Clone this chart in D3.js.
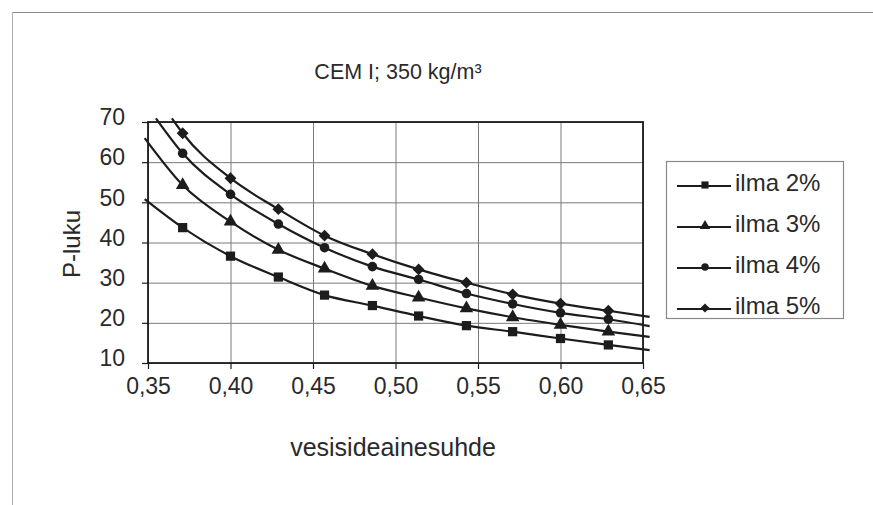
<!DOCTYPE html>
<html><head><meta charset="utf-8">
<script src="https://cdn.jsdelivr.net/npm/d3@7"></script>
<style>
html,body{margin:0;padding:0;background:#fff;}
svg{display:block;}
text{font-family:"Liberation Sans",Arial,sans-serif;fill:#2a2a2a;}
</style></head>
<body><svg id="c" width="873" height="505"></svg>
<script>
// ---- data ----
const chartTitle = "CEM I; 350 kg/m³";
const xTitle = "vesisideainesuhde";
const yTitle = "P-luku";
const xValues = [0.371, 0.400, 0.429, 0.457, 0.486, 0.514, 0.543, 0.571, 0.600, 0.629];
const seriesNames = ["ilma 2%", "ilma 3%", "ilma 4%", "ilma 5%"];
const ilma2 = [43.7, 36.6, 31.4, 26.9, 24.3, 21.7, 19.3, 17.8, 16.1, 14.5];
const ilma3 = [54.3, 45.2, 38.2, 33.5, 29.2, 26.3, 23.6, 21.4, 19.5, 17.8];
const ilma4 = [62.2, 52.0, 44.6, 38.7, 34.0, 30.8, 27.3, 24.7, 22.5, 20.9];
const ilma5 = [67.2, 56.0, 48.3, 41.7, 37.1, 33.3, 30.0, 27.1, 24.8, 23.0];
// curve ends (line runs beyond the markers)
const curveStartX = [0.348, 0.348, 0.3548, 0.3645];
const curveStartY = [50.8, 66.0, 70.9, 70.9];
const curveEndX = [0.654, 0.654, 0.654, 0.654];
const curveEndY = [13.2, 16.5, 19.2, 21.5];
const xTicks = [0.35, 0.40, 0.45, 0.50, 0.55, 0.60, 0.65];
const xTickLabels = ["0,35", "0,40", "0,45", "0,50", "0,55", "0,60", "0,65"];
const yTicks = [10, 20, 30, 40, 50, 60, 70];
const markerKinds = ["square", "triangle", "circle", "diamond"];

const svg = d3.select("#c");
const ink = "#1c1c1c";
const L = 148, R = 643, T = 122, B = 363;
const x = d3.scaleLinear().domain([0.35, 0.65]).range([L, R]);
const y = d3.scaleLinear().domain([10, 70]).range([B, T]);

// outer chart frame
svg.append("line").attr("x1", 12).attr("x2", 873).attr("y1", 12.5).attr("y2", 12.5).attr("stroke", "#8a8a8a").attr("stroke-width", 1.2);
svg.append("line").attr("x1", 12.5).attr("x2", 12.5).attr("y1", 12).attr("y2", 505).attr("stroke", "#b0b0b0").attr("stroke-width", 1);

// grid
const g = svg.append("g");
g.append("g").attr("transform", `translate(0,${B})`)
  .call(d3.axisBottom(x).tickValues(xTicks).tickSize(-(B - T)).tickFormat(""))
  .call(s => s.select(".domain").remove())
  .call(s => s.selectAll("line").attr("stroke", "#7a7a7a").attr("stroke-width", 1));
g.append("g").attr("transform", `translate(${L},0)`)
  .call(d3.axisLeft(y).tickValues(yTicks).tickSize(-(R - L)).tickFormat(""))
  .call(s => s.select(".domain").remove())
  .call(s => s.selectAll("line").attr("stroke", "#7a7a7a").attr("stroke-width", 1));

// plot border
g.append("rect").attr("x", L).attr("y", T).attr("width", R - L).attr("height", B - T)
  .attr("fill", "none").attr("stroke", ink).attr("stroke-width", 1.8);

// axes with outside ticks & labels
const xa = svg.append("g").attr("transform", `translate(0,${B})`)
  .call(d3.axisBottom(x).tickValues(xTicks).tickSize(6).tickPadding(9).tickFormat((d, i) => xTickLabels[i]));
xa.select(".domain").remove();
xa.selectAll("line").attr("stroke", ink).attr("stroke-width", 1.2);
xa.selectAll("text").attr("font-size", 23).attr("font-family", "Liberation Sans, Arial, sans-serif").attr("fill", "#2a2a2a");

const ya = svg.append("g").attr("transform", `translate(${L},0)`)
  .call(d3.axisLeft(y).tickValues(yTicks).tickSize(6).tickPadding(17));
ya.select(".domain").remove();
ya.selectAll("line").attr("stroke", ink).attr("stroke-width", 1.2);
ya.selectAll("text").attr("font-size", 23).attr("dy", "0.12em").attr("font-family", "Liberation Sans, Arial, sans-serif").attr("fill", "#2a2a2a");

// titles
svg.append("text").attr("x", 398).attr("y", 79).attr("text-anchor", "middle").attr("font-size", 21.5).text(chartTitle);
svg.append("text").attr("x", 393).attr("y", 456).attr("text-anchor", "middle").attr("font-size", 25).text(xTitle);
svg.append("text").attr("transform", "translate(80,244) rotate(-90)").attr("text-anchor", "middle").attr("font-size", 24).text(yTitle);

// series
const allY = [ilma2, ilma3, ilma4, ilma5];
const diamond = {draw(ctx, size) { const r = Math.sqrt(size / 2); ctx.moveTo(0, -r); ctx.lineTo(r, 0); ctx.lineTo(0, r); ctx.lineTo(-r, 0); ctx.closePath(); }};
const symType = {square: d3.symbolSquare, triangle: d3.symbolTriangle, circle: d3.symbolCircle, diamond: diamond};
const symSize = {square: 85, triangle: 80, circle: 72, diamond: 70};
const line = d3.line().x(d => x(d[0])).y(d => y(d[1])).curve(d3.curveMonotoneX);

allY.forEach((vals, i) => {
  const pts = [[curveStartX[i], curveStartY[i]]].concat(xValues.map((xv, j) => [xv, vals[j]])).concat([[curveEndX[i], curveEndY[i]]]);
  svg.append("path").attr("d", line(pts)).attr("fill", "none").attr("stroke", ink).attr("stroke-width", 2.2);
  const k = markerKinds[i];
  svg.append("g").selectAll("path").data(xValues).join("path")
    .attr("transform", (d, j) => `translate(${x(d)},${y(vals[j])})`)
    .attr("d", d3.symbol().type(symType[k]).size(symSize[k]))
    .attr("fill", ink);
});

// legend
const lg = svg.append("g");
lg.append("rect").attr("x", 666.5).attr("y", 161.5).attr("width", 177).attr("height", 157)
  .attr("fill", "#fff").attr("stroke", "#8a8a8a").attr("stroke-width", 1.2);
seriesNames.forEach((name, i) => {
  const cy = 183 + i * 41;
  lg.append("line").attr("x1", 677).attr("x2", 731).attr("y1", cy + 3).attr("y2", cy + 3).attr("stroke", ink).attr("stroke-width", 2);
  const k = markerKinds[i];
  lg.append("path").attr("transform", `translate(705,${cy + 2})`).attr("d", d3.symbol().type(symType[k]).size(symSize[k] * 0.6)).attr("fill", ink);
  lg.append("text").attr("x", 735).attr("y", cy + 8).attr("font-size", 24).text(name);
});
</script></body></html>
